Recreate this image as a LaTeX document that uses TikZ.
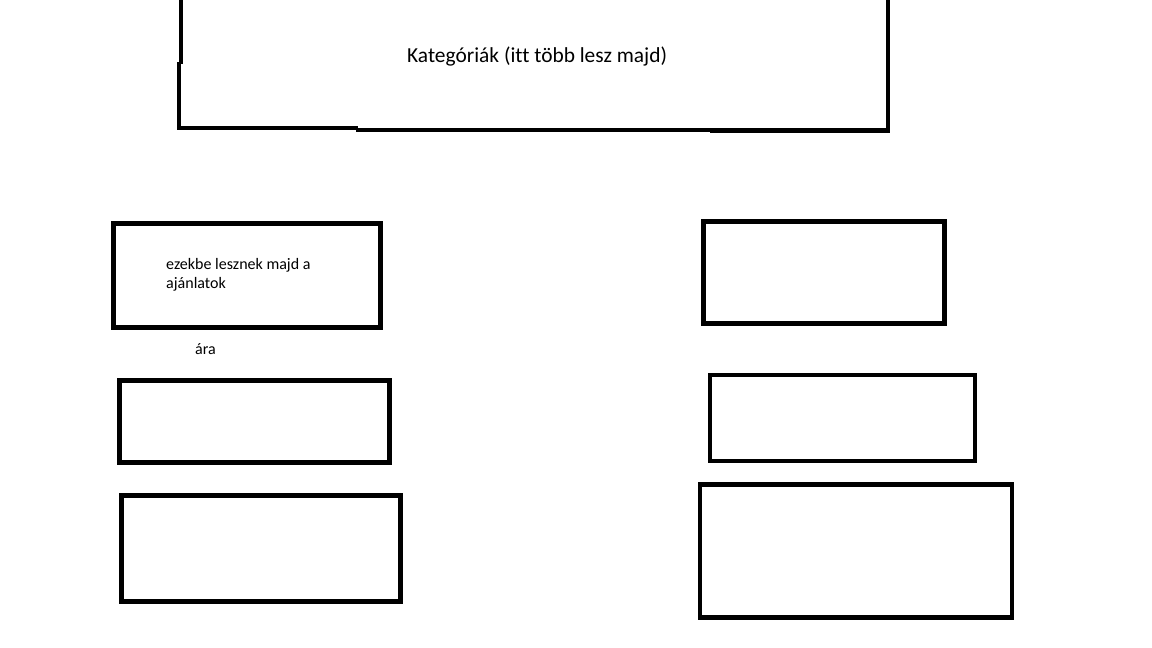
\documentclass[tikz,border=0pt]{standalone}
\usepackage{fontspec}
\setmainfont[Ligatures=NoCommon]{Carlito}
\usetikzlibrary{positioning}

\begin{document}
\begin{tikzpicture}[x=1pt,y=-1pt,
  panel/.style={draw,line width=4.5pt,inner sep=0pt,outer sep=0pt,anchor=north west},
  note/.style={inner sep=0pt,font=\fontsize{16}{19}\selectfont},
  heading/.style={inner sep=0pt,font=\fontsize{21.4}{24}\selectfont}]
  \useasboundingbox (0,0) rectangle (1152,648);
  % top box, open at the top edge
  \draw[line width=4.5pt] (181,-4)--(181,64);
  \draw[line width=4.5pt] (179,62)--(179,128)--(358,128);
  \draw[line width=4.5pt] (356,130)--(712,130);
  \draw[line width=4.5pt] (710,130.5)--(888,130.5)--(888,-4);
  \node[heading,anchor=base west] (cats) at (407,62) {Kategóriák (itt több lesz majd)};
  % left column
  \node[panel,minimum width=267pt,minimum height=104pt] (offerA) at (113.5,223.5) {};
  \node[note,anchor=base west,align=left] (offertext) at (166,288)
    {ezekbe lesznek majd a\\ajánlatok};
  \node[note,anchor=base west] (price) at (195,354) {ára};
  \node[panel,minimum width=270pt,minimum height=82pt] (offerB) at (119.5,380.5) {};
  \node[panel,minimum width=279pt,minimum height=106pt] (offerC) at (121.5,495.5) {};
  % right column
  \node[panel,minimum width=241pt,minimum height=102pt] (offerD) at (703.5,221.5) {};
  \node[panel,minimum width=265pt,minimum height=86pt] (offerE) at (710,375) {};
  \node[panel,minimum width=312pt,minimum height=133pt] (offerF) at (700,484.5) {};
\end{tikzpicture}
\end{document}
